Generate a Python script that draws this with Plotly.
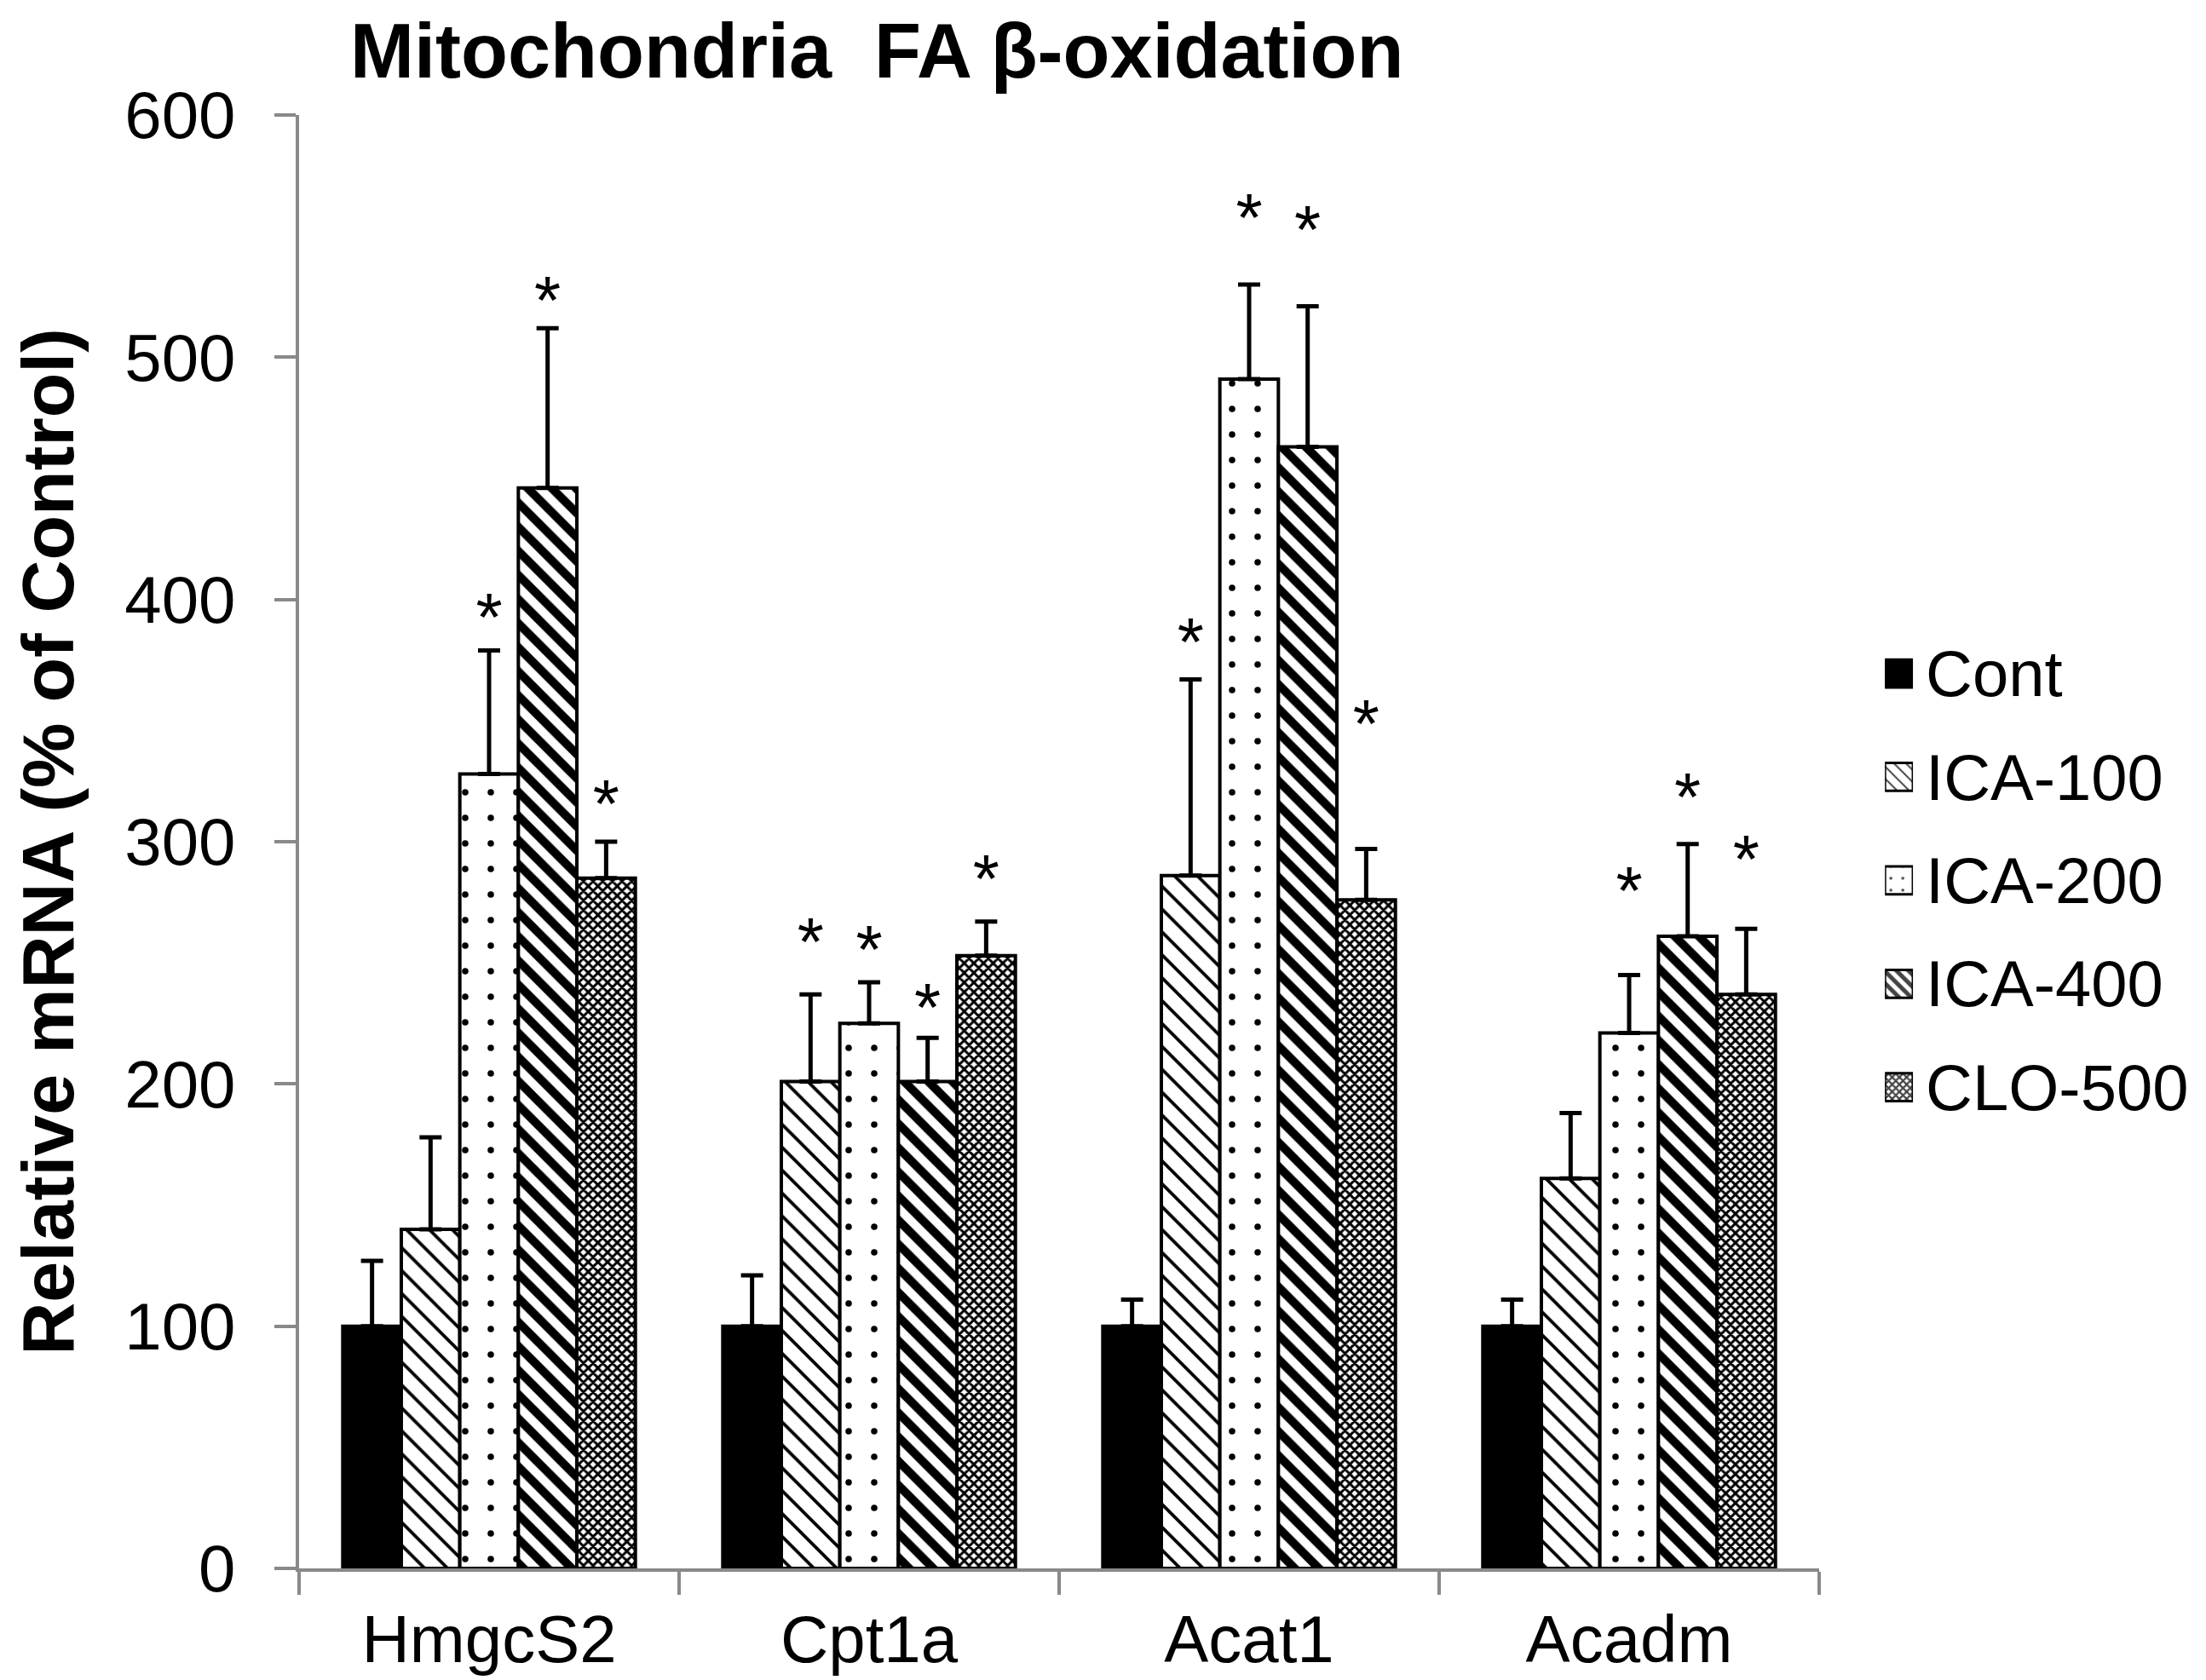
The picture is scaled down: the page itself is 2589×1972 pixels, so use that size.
import plotly.graph_objects as go

genes = ["HmgcS2", "Cpt1a", "Acat1", "Acadm"]
groups = ["Cont", "ICA-100", "ICA-200", "ICA-400", "CLO-500"]

# mean relative mRNA (% of control), per group across genes
cont = [100, 100, 100, 100]
ica100 = [140, 201, 286, 161]
ica200 = [328, 225, 491, 221]
ica400 = [446, 201, 463, 261]
clo500 = [285, 253, 276, 237]

# upper error bars
cont_err = [27, 21, 11, 11]
ica100_err = [38, 36, 81, 27]
ica200_err = [51, 17, 39, 24]
ica400_err = [66, 18, 58, 38]
clo500_err = [15, 14, 21, 27]

# height of the significance stars (None = no star)
cont_star = [None, None, None, None]
ica100_star = [None, 256, 380, None]
ica200_star = [390, 253, 555, 277]
ica400_star = [521, 229, 550, 316]
clo500_star = [313, 282, 346, 290]

values = [cont, ica100, ica200, ica400, clo500]
errors = [cont_err, ica100_err, ica200_err, ica400_err, clo500_err]
stars = [cont_star, ica100_star, ica200_star, ica400_star, clo500_star]

# fill pattern per group
pat_shape = ["", "\\", ".", "\\", "x"]
pat_size = [10, 19, 30, 20, 8]
pat_solid = [0.3, 0.2, 0.05, 0.5, 0.6]
fill_col = ["black", "white", "white", "white", "white"]

FONT = "Liberation Sans, Arial, sans-serif"
GREY = "#898989"

fig = go.Figure()

for i, (name, vals, errs) in enumerate(zip(groups, values, errors)):
    marker = dict(color=fill_col[i], line=dict(color="black", width=4))
    if pat_shape[i]:
        marker["pattern"] = dict(shape=pat_shape[i], size=pat_size[i],
                                 solidity=pat_solid[i], fgcolor="black",
                                 bgcolor="white", fgopacity=1,
                                 fillmode="replace")
    fig.add_trace(go.Bar(
        x=genes, y=vals, name=name, showlegend=False,
        marker=marker,
        error_y=dict(type="data", symmetric=False, array=errs,
                     arrayminus=[0] * len(errs), color="black",
                     thickness=5, width=13),
    ))

for name, st in zip(groups, stars):
    fig.add_trace(go.Scatter(
        x=genes, y=st, mode="text",
        text=["*" if s is not None else "" for s in st],
        textposition="middle center",
        textfont=dict(family=FONT, size=80, color="black"),
        showlegend=False, hoverinfo="skip",
    ))

# legend drawn as a small bar chart of swatches so the swatches can be large
fig.add_trace(go.Bar(
    x=[1] * len(groups), y=groups, orientation="h", width=0.27,
    xaxis="x2", yaxis="y2", showlegend=False, hoverinfo="skip",
    marker=dict(color=fill_col, line=dict(color="black", width=3),
                pattern=dict(shape=pat_shape, size=[8, 10, 14, 10, 6],
                             solidity=pat_solid, fgcolor="black",
                             bgcolor="white", fgopacity=1)),
))

fig.update_layout(
    width=2589, height=1972,
    margin=dict(l=343, r=40, t=127, b=136),
    plot_bgcolor="white", paper_bgcolor="white",
    barmode="group", bargap=0.23, bargroupgap=0,
    scattermode="group", scattergap=0.23,
    font=dict(family=FONT, color="black"),
    showlegend=False,
    xaxis=dict(
        domain=[0, 0.8087],
        type="category", showline=True, linecolor=GREY, linewidth=4,
        ticks="outside", tickson="boundaries", ticklen=27, tickwidth=4,
        tickcolor=GREY, tickfont=dict(size=78), ticklabelstandoff=12,
        showgrid=False, zeroline=False,
    ),
    yaxis=dict(
        range=[0, 600], dtick=100, showline=True, linecolor=GREY,
        linewidth=4, ticks="outside", ticklen=25, tickwidth=4,
        tickcolor=GREY, tickfont=dict(size=78), ticklabelstandoff=30,
        showgrid=False, zeroline=False,
        title=dict(text="<b>Relative mRNA (% of Control)</b>",
                   font=dict(size=86), standoff=60),
    ),
    xaxis2=dict(domain=[0.8437, 0.8586], anchor="y2", range=[0, 1],
                visible=False, fixedrange=True),
    yaxis2=dict(domain=[0.2955, 0.6513], anchor="x2", side="right",
                type="category", autorange="reversed", showline=False,
                ticks="", showgrid=False, zeroline=False,
                tickfont=dict(size=76), ticklabelstandoff=14,
                fixedrange=True),
)

fig.add_annotation(
    text="<b>Mitochondria  FA β-oxidation</b>",
    xref="paper", yref="paper", x=0.3075, y=1.0743,
    xanchor="center", yanchor="top", showarrow=False,
    font=dict(family=FONT, size=90, color="black"),
)

fig.write_html("out.html")
